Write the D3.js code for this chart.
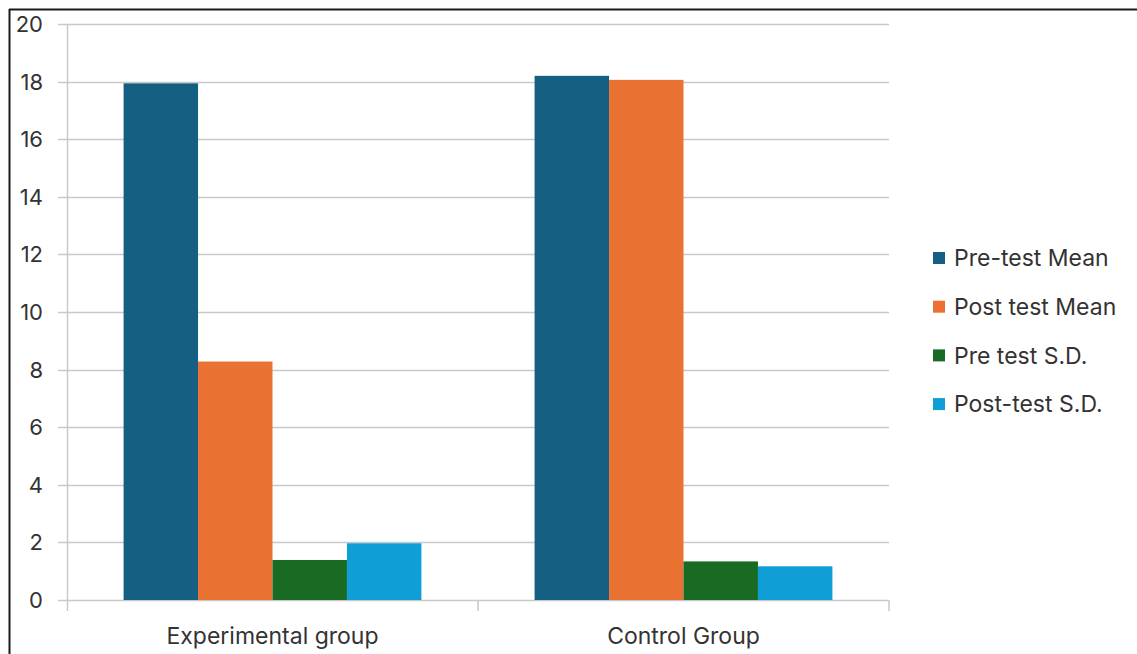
<!DOCTYPE html>
<html>
<head>
<meta charset="utf-8">
<script src="https://cdn.jsdelivr.net/npm/d3@7"></script>
<style>
  html, body { margin: 0; padding: 0; background: #fff; }
  svg { display: block; }
  text { font-family: "Inter", "Noto Sans", sans-serif; fill: #333; }
</style>
</head>
<body>
<svg id="chart" width="1137" height="654"></svg>
<script>
// Groups along the x axis
const groups = ["Experimental group", "Control Group"];
// Series names (legend order)
const seriesNames = ["Pre-test Mean", "Post test Mean", "Pre test S.D.", "Post-test S.D."];
// Values per series, one per group
const preTestMean  = [17.94, 18.2];
const postTestMean = [8.28, 18.06];
const preTestSD    = [1.39, 1.34];
const postTestSD   = [1.97, 1.17];
const seriesValues = [preTestMean, postTestMean, preTestSD, postTestSD];
const seriesColors = ["#156082", "#E97132", "#196B24", "#0F9ED5"];
// Y axis ticks
const yTicks = [0, 2, 4, 6, 8, 10, 12, 14, 16, 18, 20];

const svg = d3.select("#chart");
const plot = { left: 67, right: 889, top: 24, bottom: 600 };

// outer frame (top and left edges)
svg.append("line").attr("x1", 9).attr("x2", 1137).attr("y1", 9.5).attr("y2", 9.5)
  .attr("stroke", "#1a1a1a").attr("stroke-width", 2);
svg.append("line").attr("x1", 9.5).attr("x2", 9.5).attr("y1", 9).attr("y2", 654)
  .attr("stroke", "#1a1a1a").attr("stroke-width", 2);

const x0 = d3.scaleBand().domain(groups).range([plot.left, plot.right]).paddingInner(0).paddingOuter(0);
const x1 = d3.scaleBand().domain(d3.range(seriesNames.length))
  .range([0, x0.bandwidth()]).paddingOuter(0.76).paddingInner(0);
const y = d3.scaleLinear().domain([0, 20]).range([plot.bottom, plot.top]);

// horizontal gridlines with short ticks to the left of the axis
svg.append("g").selectAll("line").data(yTicks).join("line")
  .attr("x1", plot.left - 9).attr("x2", plot.right)
  .attr("y1", d => Math.round(y(d)) + 0.5).attr("y2", d => Math.round(y(d)) + 0.5)
  .attr("stroke", "#c9c9c9").attr("stroke-width", 1.5);

// y tick labels
svg.append("g").selectAll("text").data(yTicks).join("text")
  .attr("x", 43).attr("y", d => y(d)).attr("dy", "0.36em")
  .attr("text-anchor", "end").attr("font-size", 22)
  .text(d => d);

// bars
const gBars = svg.append("g");
groups.forEach((g, gi) => {
  seriesValues.forEach((vals, si) => {
    const v = vals[gi];
    gBars.append("rect")
      .attr("x", x0(g) + x1(si))
      .attr("width", x1.bandwidth())
      .attr("y", y(v))
      .attr("height", y(0) - y(v))
      .attr("fill", seriesColors[si]);
  });
});

// vertical axis line
svg.append("line").attr("x1", plot.left + 0.5).attr("x2", plot.left + 0.5)
  .attr("y1", plot.top).attr("y2", plot.bottom + 11)
  .attr("stroke", "#c9c9c9").attr("stroke-width", 1.5);

// category separator ticks
const sepXs = groups.map(g => x0(g) + x0.bandwidth());
svg.append("g").selectAll("line").data(sepXs).join("line")
  .attr("x1", d => d).attr("x2", d => d)
  .attr("y1", plot.bottom).attr("y2", plot.bottom + 11)
  .attr("stroke", "#c9c9c9").attr("stroke-width", 1.5);

// category labels
svg.append("g").selectAll("text").data(groups).join("text")
  .attr("x", d => x0(d) + x0.bandwidth() / 2).attr("y", 636).attr("dy", "0.36em")
  .attr("text-anchor", "middle").attr("font-size", 23)
  .text(d => d);

// legend
const legend = svg.append("g").selectAll("g").data(seriesNames).join("g")
  .attr("transform", (d, i) => `translate(933, ${258 + i * 48.7})`);
legend.append("rect").attr("x", 0).attr("y", -6).attr("width", 12).attr("height", 12)
  .attr("fill", (d, i) => seriesColors[i]);
legend.append("text").attr("x", 21).attr("y", 0).attr("dy", "0.36em")
  .attr("font-size", 23).text(d => d);
</script>
</body>
</html>
